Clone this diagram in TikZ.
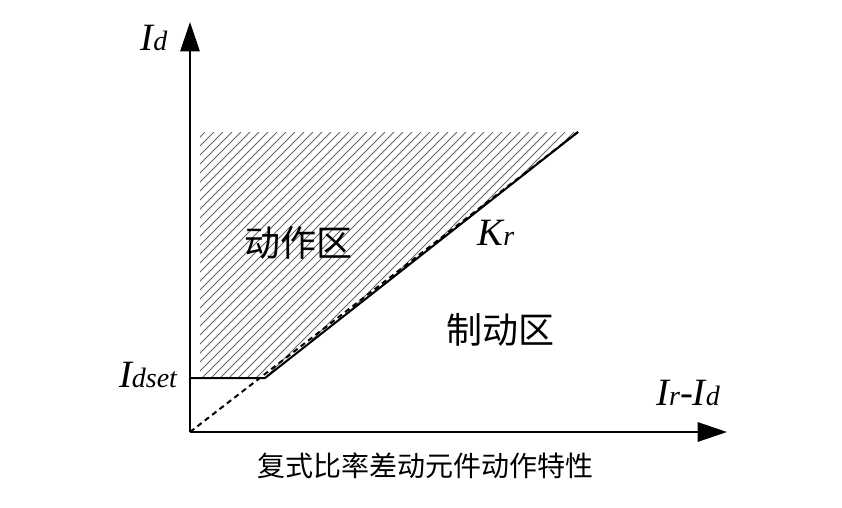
\documentclass[tikz,border=0pt]{standalone}
\usepackage{fontspec}
\setmainfont{Liberation Serif}
\newfontfamily\cjk{Noto Sans CJK SC}
\usetikzlibrary{arrows.meta}
\tikzset{
  axis/.style={line width=1.5pt,-{Triangle[length=22pt,width=14.5pt]}},
  hatch/.style={black!60,line width=0.55pt},
  lbl/.style={font=\fontsize{29}{29}\selectfont\itshape,inner sep=0pt},
  zone/.style={font=\fontsize{27}{27}\selectfont\cjk,inner sep=0pt}
}
\newcommand{\subtxt}[1]{{\fontsize{21}{21}\selectfont\itshape #1}}
\begin{document}
\begin{tikzpicture}[x=0.75pt,y=-0.75pt]
 \useasboundingbox (0,0) rectangle (842,507);
 \coordinate (O) at (190,432);
 \coordinate (ytip) at (190,22);
 \coordinate (xtip) at (727,432);
 \coordinate (set) at (190,378);
 \coordinate (knee) at (265,378);
 \coordinate (top) at (578,132);
 \coordinate (tl) at (200,132);
 \coordinate (bl) at (200,378);
 % hatched operating zone
 \begin{scope}
  \clip (bl) -- (tl) -- (top) -- (knee) -- cycle;
  \foreach \x in {-50,-41,...,590}
   \draw[hatch] (\x,378) -- ++(246,-246);
 \end{scope}
 \draw[axis] (O) -- (ytip);
 \draw[axis] (O) -- (xtip);
 \draw[line width=1.5pt] (set) -- (knee) -- (top);
 \draw[line width=1.5pt,dash pattern=on 4pt off 3pt] (O) -- (top);
 \node[lbl,anchor=base] (id) at (154,50) {I\subtxt{d}};
 \node[lbl,anchor=base] (idset) at (148,387) {I\subtxt{dset}};
 \node[lbl,anchor=base] (irid) at (688,405) {I\subtxt{r}-I\subtxt{d}};
 \node[lbl,anchor=base] (kr) at (496,245) {K\subtxt{r}};
 \node[zone] (act) at (298,243) {动作区};
 \node[zone] (brk) at (500,330) {制动区};
 \node[font=\fontsize{21}{21}\selectfont\cjk,inner sep=0pt] (cap) at (425,466) {复式比率差动元件动作特性};
\end{tikzpicture}
\end{document}
